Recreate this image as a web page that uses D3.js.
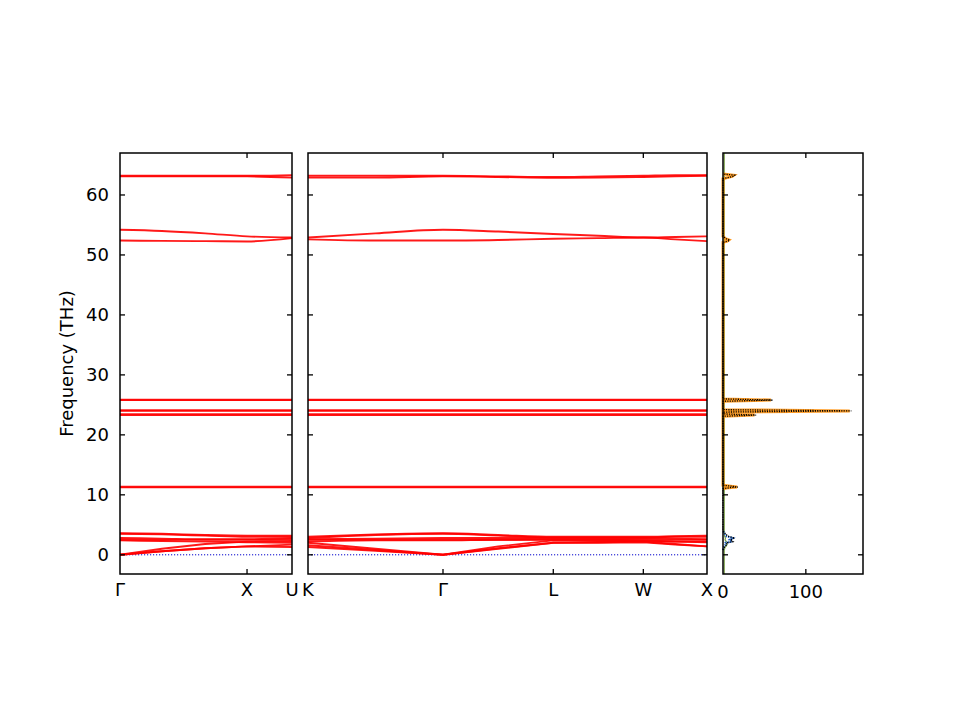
<!DOCTYPE html>
<html lang="en">
<head>
<meta charset="utf-8">
<title>Phonon bands and DOS</title>
<script src="https://d3js.org/d3.v7.min.js"></script>
<style>
  body { margin: 0; background: #fff; }
  text { font-family: 'DejaVu Sans', sans-serif; fill: #000; }
  .frame { fill: none; stroke: #000; stroke-width: 1.5px; }
  .band { fill: none; stroke: #ff0000; stroke-width: 1.9px; stroke-opacity: 0.9; }
  .zero { stroke: #0000cc; stroke-width: 1px; stroke-dasharray: 1.2,1.8; }
</style>
</head>
<body>
<svg id="chart" width="960" height="720"></svg>
<script>
// ---- data ----
// path distances of sample k-points
var kLeft = [0, 0.33, 0.67, 1.0, 1.354];                                      // Γ .. X .. U
var kMid  = [1.354, 1.884, 2.414, 2.847, 3.280, 3.634, 3.987, 4.237, 4.487]; // K .. Γ .. L .. W .. X

var tickLeftPos = [0, 1.0, 1.354];
var tickLeftLab = ["Γ", "X", "U"];
var tickMidPos  = [1.354, 2.414, 3.280, 3.987, 4.487];
var tickMidLab  = ["K", "Γ", "L", "W", "X"];

// acoustic branches (drawn straight, they have a kink at Γ)
var acLeft = [
  [0, 0.6, 1.1, 1.4, 1.3],
  [0, 0.6, 1.1, 1.4, 1.7],
  [0, 1.0, 1.8, 2.2, 2.3]
];
var acMid = [
  [1.3, 0.65, 0, 1.0, 2.0, 2.0, 2.1, 1.7, 1.4],
  [1.6, 0.8, 0, 1.1, 2.0, 2.1, 2.2, 1.8, 1.4],
  [2.0, 1.0, 0, 1.4, 2.4, 2.3, 2.3, 2.2, 2.2]
];
// low optical branches, Γ-X-U
var lowLeft = [
  [2.4, 2.3, 2.2, 2.1, 2.0],
  [2.5, 2.5, 2.5, 2.5, 2.6],
  [2.8, 2.7, 2.6, 2.6, 2.8],
  [3.5, 3.4, 3.2, 3.0, 3.0],
  [3.6, 3.5, 3.3, 3.2, 3.2]
];
// low optical branches, K-Γ-L-W-X
var lowMid = [
  [2.2, 2.4, 2.4, 2.5, 2.5, 2.5, 2.4, 2.2, 2.1],
  [2.5, 2.5, 2.5, 2.5, 2.6, 2.6, 2.6, 2.5, 2.5],
  [2.6, 2.7, 2.8, 2.8, 2.8, 2.8, 2.8, 2.7, 2.6],
  [2.8, 3.3, 3.5, 3.2, 2.9, 2.9, 2.9, 3.0, 3.0],
  [3.0, 3.4, 3.6, 3.3, 3.0, 3.0, 3.0, 3.1, 3.2]
];
// nearly flat optical branches (same on every segment)
var flatBands = [11.25, 11.35, 23.3, 23.45, 24.0, 24.1, 25.8, 25.85];
// upper branches
var highLeft = [
  [52.4, 52.35, 52.3, 52.25, 52.8],
  [54.2, 54.0, 53.6, 53.1, 52.9],
  [63.2, 63.2, 63.2, 63.2, 63.3],
  [63.1, 63.1, 63.1, 63.1, 62.9]
];
var highMid = [
  [52.6, 52.4, 52.4, 52.5, 52.7, 52.8, 52.9, 52.6, 52.3],
  [52.9, 53.6, 54.2, 53.9, 53.5, 53.2, 52.9, 53.0, 53.1],
  [63.2, 63.2, 63.2, 63.1, 63.0, 63.1, 63.2, 63.3, 63.3],
  [62.9, 62.9, 63.1, 63.0, 62.85, 62.9, 63.0, 63.1, 63.2]
];

// density of states
var dosFreq  = [-3.2, 0.8, 1.3, 1.7, 2.0, 2.2, 2.5, 2.8, 3.1, 3.5, 4.0,
                11.0, 11.2, 11.3, 11.45, 11.6,
                23.1, 23.3, 23.5, 23.8, 24.0, 24.2, 25.6, 25.8, 26.0,
                52.1, 52.3, 52.5, 52.7, 53.1,
                62.7, 62.9, 63.1, 63.3, 63.5, 67.0];
var dosTotal = [0, 0, 2, 5, 4, 12, 9, 14, 6, 3, 0,
                0, 8, 18, 10, 0,
                0, 40, 0, 0, 155, 0, 0, 60, 0,
                0, 6, 8, 4, 0,
                0, 6, 12, 14, 0, 0];
var dosOrange = [0, 0, 0, 0, 0, 0, 0, 0, 0, 0, 0,
                 0, 7, 17, 9, 0,
                 0, 38, 0, 0, 153, 0, 0, 58, 0,
                 0, 5, 7, 3, 0,
                 0, 5, 11, 13, 0, 0];
var dosBlue  = [0, 0, 1, 3, 3, 11, 8, 12, 4, 2, 0,
                0, 0, 0, 0, 0,
                0, 0, 0, 0, 0, 0, 0, 0, 0,
                0, 0, 0, 0, 0,
                0, 0, 0, 0, 0, 0];
var dosGreen = [1.5, 1.5, 2.5, 5, 3, 4, 2.5, 3, 2, 1.5, 1.5,
                1.5, 1.5, 1.5, 1.5, 1.5,
                1.5, 1.5, 1.5, 1.5, 1.5, 1.5, 1.5, 1.5, 1.5,
                1.5, 1.5, 1.5, 1.5, 1.5,
                1.5, 1.5, 1.5, 1.5, 1.5, 1.5];

var yTicks = [0, 10, 20, 30, 40, 50, 60];
var dosTicks = [0, 100];

// ---- layout ----
var svg = d3.select("#chart");
var yTop = 153, yBot = 574, tl = 5, fs = "18px";

var y = d3.scaleLinear().domain([-3.2, 67.0]).range([yBot, yTop]);
var xLeft = d3.scaleLinear().domain([0, 1.354]).range([120, 292]);
var xMid  = d3.scaleLinear().domain([1.354, 4.487]).range([308, 707]);
var xDos  = d3.scaleLinear().domain([0, 169]).range([723, 863]);

function tick(g, x1, y1, x2, y2) {
  g.append("line").attr("x1", x1).attr("y1", y1).attr("x2", x2).attr("y2", y2)
    .attr("stroke", "#000").attr("stroke-width", 1.3);
}

function drawPanel(x, ks, acoustic, bands, tickPos, tickLab, showYLabels) {
  var x0 = x.range()[0], x1 = x.range()[1];
  var g = svg.append("g");

  // zero line
  g.append("line").attr("class", "zero")
    .attr("x1", x0).attr("x2", x1).attr("y1", y(0)).attr("y2", y(0));

  var smooth = d3.line()
    .x(function(d, i) { return x(ks[i]); })
    .y(function(d) { return y(d); })
    .curve(d3.curveMonotoneX);
  var straight = d3.line()
    .x(function(d, i) { return x(ks[i]); })
    .y(function(d) { return y(d); });

  g.selectAll("path.ac").data(acoustic).enter().append("path")
    .attr("class", "band ac").attr("d", straight);
  g.selectAll("path.opt").data(bands).enter().append("path")
    .attr("class", "band opt").attr("d", smooth);

  // y ticks inward on both sides
  yTicks.forEach(function(t) {
    tick(g, x0, y(t), x0 + tl, y(t));
    tick(g, x1, y(t), x1 - tl, y(t));
    if (showYLabels) {
      g.append("text").attr("x", x0 - 11).attr("y", y(t)).attr("dy", "0.35em")
        .attr("text-anchor", "end").style("font-size", fs).text(t);
    }
  });
  // x ticks inward top and bottom
  tickPos.forEach(function(p, i) {
    var px = x(p);
    if (px > x0 + 1 && px < x1 - 1) {
      tick(g, px, yBot, px, yBot - tl);
      tick(g, px, yTop, px, yTop + tl);
    }
    g.append("text").attr("x", px).attr("y", yBot + 22)
      .attr("text-anchor", "middle").style("font-size", fs).text(tickLab[i]);
  });

  g.append("rect").attr("class", "frame")
    .attr("x", x0).attr("y", yTop).attr("width", x1 - x0).attr("height", yBot - yTop);
}

var bandsLeft = lowLeft.concat(flatBands.map(function(f) { return kLeft.map(function() { return f; }); }), highLeft);
var bandsMid  = lowMid.concat(flatBands.map(function(f) { return kMid.map(function() { return f; }); }), highMid);

drawPanel(xLeft, kLeft, acLeft, bandsLeft, tickLeftPos, tickLeftLab, true);
drawPanel(xMid, kMid, acMid, bandsMid, tickMidPos, tickMidLab, false);

svg.append("text")
  .attr("transform", "translate(73," + ((yTop + yBot) / 2) + ")rotate(-90)")
  .attr("text-anchor", "middle").style("font-size", fs)
  .text("Frequency (THz)");

// ---- DOS panel ----
var gd = svg.append("g");
function dosLine(vals) {
  return d3.line()
    .defined(function(d, i) {
      return vals[i] > 0 || (i > 0 && vals[i - 1] > 0) || (i < vals.length - 1 && vals[i + 1] > 0);
    })
    .x(function(d, i) { return xDos(vals[i]); })
    .y(function(d) { return y(d); })(dosFreq);
}
gd.append("path").attr("d", dosLine(dosGreen)).attr("fill", "none")
  .attr("stroke", "#5a8a1a").attr("stroke-width", 1.2).attr("stroke-opacity", 0.8);
gd.append("path").attr("d", dosLine(dosOrange)).attr("fill", "none")
  .attr("stroke", "#ff8c00").attr("stroke-width", 3).attr("stroke-opacity", 0.85);
gd.append("path").attr("d", dosLine(dosBlue)).attr("fill", "none")
  .attr("stroke", "#1f5fbf").attr("stroke-width", 2).attr("stroke-dasharray", "1.5,1");
gd.append("path").attr("d", dosLine(dosTotal)).attr("fill", "none")
  .attr("stroke", "#000").attr("stroke-width", 1.3).attr("stroke-dasharray", "1.2,1.2");

yTicks.forEach(function(t) {
  tick(gd, 723, y(t), 723 + tl, y(t));
  tick(gd, 863, y(t), 863 - tl, y(t));
});
dosTicks.forEach(function(t) {
  var px = xDos(t);
  if (t > 0) {
    tick(gd, px, yBot, px, yBot - tl);
    tick(gd, px, yTop, px, yTop + tl);
  }
  gd.append("text").attr("x", px).attr("y", yBot + 24)
    .attr("text-anchor", "middle").style("font-size", fs).text(t);
});
gd.append("rect").attr("class", "frame")
  .attr("x", 723).attr("y", yTop).attr("width", 140).attr("height", yBot - yTop);
</script>
</body>
</html>
